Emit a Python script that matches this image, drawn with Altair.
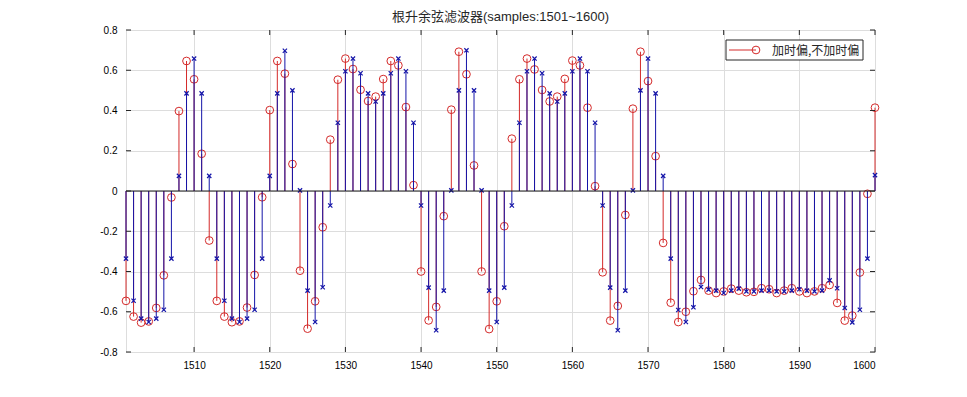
import altair as alt
import pandas as pd

samples = list(range(1501, 1601))

red_vals = [
    -0.546, -0.624, -0.654, -0.648, -0.581, -0.419, -0.032, 0.397, 0.646, 0.555,
    0.185, -0.246, -0.546, -0.624, -0.652, -0.648, -0.579, -0.417, -0.031, 0.402,
    0.646, 0.583, 0.134, -0.396, -0.684, -0.548, -0.180, 0.255, 0.553, 0.658,
    0.606, 0.503, 0.447, 0.469, 0.556, 0.646, 0.624, 0.417, 0.029, -0.400,
    -0.643, -0.576, -0.125, 0.404, 0.692, 0.580, 0.127, -0.400, -0.686, -0.548,
    -0.175, 0.260, 0.555, 0.658, 0.604, 0.502, 0.445, 0.469, 0.557, 0.648,
    0.624, 0.414, 0.024, -0.404, -0.644, -0.571, -0.119, 0.409, 0.692, 0.546,
    0.173, -0.258, -0.555, -0.651, -0.600, -0.498, -0.442, -0.495, -0.507, -0.499,
    -0.485, -0.495, -0.503, -0.501, -0.483, -0.488, -0.507, -0.495, -0.483, -0.499,
    -0.507, -0.499, -0.483, -0.467, -0.556, -0.644, -0.619, -0.405, -0.014, 0.414,
]

blue_vals = [
    -0.336, -0.545, -0.634, -0.651, -0.634, -0.590, -0.336, 0.075, 0.485, 0.658,
    0.485, 0.075, -0.336, -0.545, -0.634, -0.651, -0.634, -0.590, -0.336, 0.075,
    0.485, 0.697, 0.500, 0.003, -0.495, -0.651, -0.478, -0.072, 0.339, 0.595,
    0.658, 0.585, 0.485, 0.445, 0.485, 0.585, 0.658, 0.595, 0.339, -0.072,
    -0.480, -0.692, -0.495, 0.003, 0.500, 0.699, 0.500, 0.003, -0.495, -0.651,
    -0.480, -0.072, 0.339, 0.595, 0.658, 0.585, 0.485, 0.445, 0.485, 0.595,
    0.658, 0.595, 0.339, -0.072, -0.480, -0.692, -0.495, 0.003, 0.500, 0.658,
    0.485, 0.075, -0.336, -0.591, -0.651, -0.578, -0.477, -0.490, -0.495, -0.507,
    -0.495, -0.485, -0.499, -0.499, -0.495, -0.495, -0.499, -0.499, -0.495, -0.488,
    -0.495, -0.499, -0.495, -0.444, -0.483, -0.581, -0.653, -0.590, -0.336, 0.079,
]

x_ticks = [1510, 1520, 1530, 1540, 1550, 1560, 1570, 1580, 1590, 1600]
y_ticks = [-0.8, -0.6, -0.4, -0.2, 0.0, 0.2, 0.4, 0.6, 0.8]
title_text = "根升余弦滤波器(samples:1501~1600)"
legend_text = "加时偏,不加时偏"

RED = "#d42a2a"
BLUE = "#1414a8"
W, H = 749, 322
FONT = "Liberation Sans"

df = pd.DataFrame({"n": samples, "red": red_vals, "blue": blue_vals})
xt = pd.DataFrame({"n": x_ticks})
yt = pd.DataFrame({"v": y_ticks})

xscale = alt.Scale(domain=[1501, 1600], nice=False, zero=False)
yscale = alt.Scale(domain=[-0.8, 0.8], nice=False)
xaxis = alt.Axis(values=x_ticks, title=None, grid=True, ticks=False, domain=False,
                 labelPadding=8, format="d")
yaxis = alt.Axis(values=y_ticks, title=None, grid=True, ticks=False, domain=False,
                 labelPadding=9,
                 labelExpr="toString(round(datum.value*10)/10)")


def X(field):
    return alt.X(field, type="quantitative", scale=xscale, axis=xaxis)


def Y(field):
    return alt.Y(field, type="quantitative", scale=yscale, axis=yaxis)


base = alt.Chart(df)

red_stems = base.mark_rule(color=RED, strokeWidth=1).encode(
    x=X("n"), y=Y("red"), y2=alt.datum(0))
red_pts = base.mark_point(shape="circle", filled=False, color=RED, size=60,
                          strokeWidth=1, opacity=1).encode(x=X("n"), y=Y("red"))
blue_stems = base.mark_rule(color=BLUE, strokeWidth=1).encode(
    x=X("n"), y=Y("blue"), y2=alt.datum(0))
blue_pts = base.mark_point(shape="M-1,-1L1,1M-1,1L1,-1", filled=False, color=BLUE,
                           size=18, strokeWidth=1.2, opacity=1).encode(
    x=X("n"), y=Y("blue"))

baseline = alt.Chart(pd.DataFrame({"z": [0.0]})).mark_rule(
    color="#1a1a1a", strokeWidth=1).encode(y=Y("z"))

tick_col = "#262626"
xt_bottom = alt.Chart(xt).mark_rule(color=tick_col, strokeWidth=1).encode(
    x=X("n"), y=alt.value(H), y2=alt.value(H - 5))
xt_top = alt.Chart(xt).mark_rule(color=tick_col, strokeWidth=1).encode(
    x=X("n"), y=alt.value(0), y2=alt.value(5))
yt_left = alt.Chart(yt).mark_rule(color=tick_col, strokeWidth=1).encode(
    y=Y("v"), x=alt.value(0), x2=alt.value(5))
yt_right = alt.Chart(yt).mark_rule(color=tick_col, strokeWidth=1).encode(
    y=Y("v"), x=alt.value(W), x2=alt.value(W - 5))

leg_df = pd.DataFrame({"label": [legend_text]})
leg_box = alt.Chart(leg_df).mark_rect(fill="white", stroke="#262626",
                                      strokeWidth=1).encode(
    x=alt.value(600), x2=alt.value(737), y=alt.value(10), y2=alt.value(30))
leg_line = alt.Chart(leg_df).mark_rule(color=RED, strokeWidth=1).encode(
    x=alt.value(603), x2=alt.value(630), y=alt.value(20))
leg_pt = alt.Chart(leg_df).mark_point(shape="circle", filled=False, color=RED,
                                      size=60, strokeWidth=1, opacity=1).encode(
    x=alt.value(630), y=alt.value(20))
leg_txt = alt.Chart(leg_df).mark_text(align="left", baseline="middle", fontSize=12,
                                      font="Noto Sans CJK SC", color="#262626").encode(
    x=alt.value(646), y=alt.value(20.5), text="label:N")

chart = alt.layer(
    red_stems, red_pts, blue_stems, blue_pts, baseline,
    xt_bottom, xt_top, yt_left, yt_right,
    leg_box, leg_line, leg_pt, leg_txt,
).properties(
    width=W, height=H,
    title=alt.Title(title_text, fontSize=13, font="Liberation Sans, Noto Sans CJK SC",
                    fontWeight="normal", color="#262626", offset=1),
    autosize=alt.AutoSizeParams(type="none"),
    padding={"left": 118, "top": 22, "right": 80, "bottom": 30},
).configure_view(
    stroke="#262626", strokeWidth=1
).configure_axis(
    labelFont=FONT, labelFontSize=12, labelColor="#262626",
    gridColor="#e0e0e0", gridWidth=1,
).configure(background="white")

chart.save("out.html", embed_options={"renderer": "svg", "actions": False})
